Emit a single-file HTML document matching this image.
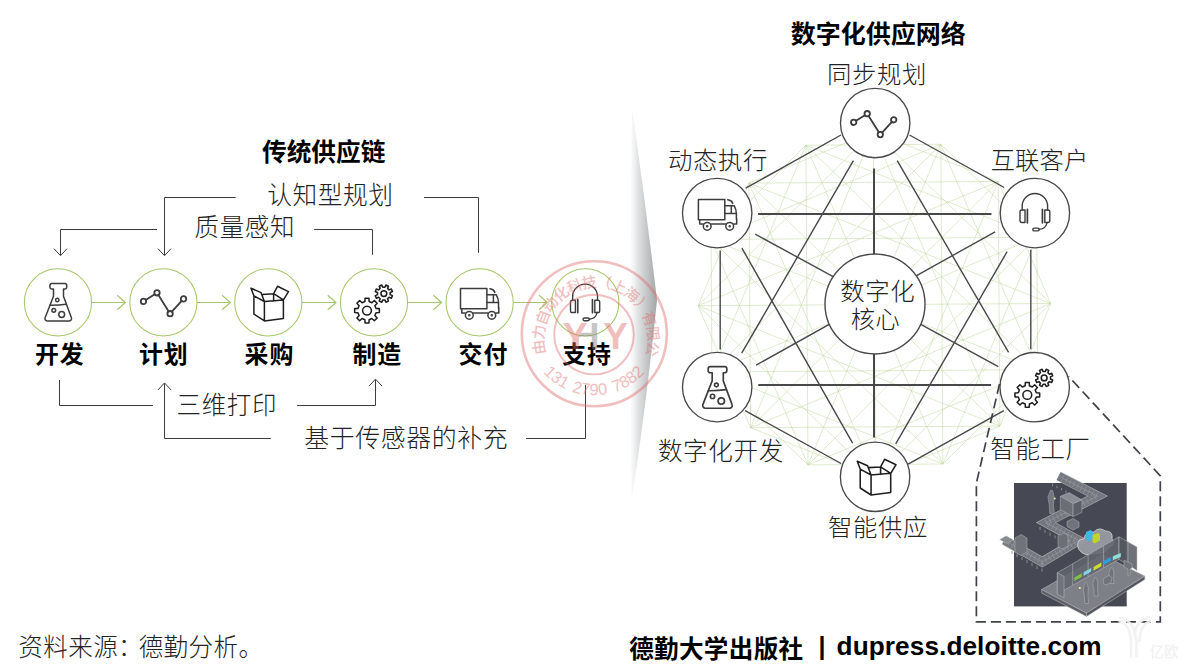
<!DOCTYPE html>
<html lang="zh"><head><meta charset="utf-8"><title>数字化供应网络</title>
<style>html,body{margin:0;padding:0;background:#fff}body{width:1188px;height:668px;overflow:hidden}svg{display:block}</style></head>
<body>
<svg width="1188" height="668" viewBox="0 0 1188 668">
<defs><linearGradient id="curl" gradientUnits="userSpaceOnUse" x1="626" y1="0" x2="658" y2="0"><stop offset="0" stop-color="#ffffff" stop-opacity="0"/><stop offset="0.35" stop-color="#e4e5e6"/><stop offset="1" stop-color="#9fa1a3"/></linearGradient><path id="stampTop" d="M 595.9,391.2 A 51.9,51.9 0 1 1 595.9,287.4 A 51.9,51.9 0 1 1 595.9,391.2"/><path id="stampBot" d="M 594.1,258.7 A 68.3,68.3 0 1 0 594.1,395.3 A 68.3,68.3 0 1 0 594.1,258.7"/></defs>
<rect width="1188" height="668" fill="#fff"/>
<path d="M632,108 Q645,200 657,300 Q647,400 631.5,501 Q629,300 632,108Z" fill="url(#curl)"/>
<path d="M873.2,131.6 L998.2,181.5 M873.2,131.6 L1050.7,303.5 M873.2,131.6 L999.9,426.1 M873.2,131.6 L875.6,477.6 M873.2,131.6 L750.6,427.7 M873.2,131.6 L698.1,305.7 M873.2,131.6 L748.9,183.1 M998.2,181.5 L1050.7,303.5 M998.2,181.5 L999.9,426.1 M998.2,181.5 L875.6,477.6 M998.2,181.5 L750.6,427.7 M998.2,181.5 L698.1,305.7 M998.2,181.5 L748.9,183.1 M1050.7,303.5 L999.9,426.1 M1050.7,303.5 L875.6,477.6 M1050.7,303.5 L750.6,427.7 M1050.7,303.5 L698.1,305.7 M1050.7,303.5 L748.9,183.1 M999.9,426.1 L875.6,477.6 M999.9,426.1 L750.6,427.7 M999.9,426.1 L698.1,305.7 M999.9,426.1 L748.9,183.1 M875.6,477.6 L750.6,427.7 M875.6,477.6 L698.1,305.7 M875.6,477.6 L748.9,183.1 M750.6,427.7 L698.1,305.7 M750.6,427.7 L748.9,183.1 M698.1,305.7 L748.9,183.1 M940.8,144.3 L1036.8,237.3 M940.8,144.3 L1037.7,369.7 M940.8,144.3 L942.9,464.0 M940.8,144.3 L808.0,464.9 M940.8,144.3 L712.0,371.9 M940.8,144.3 L711.1,239.5 M940.8,144.3 L805.9,145.2 M1036.8,237.3 L1037.7,369.7 M1036.8,237.3 L942.9,464.0 M1036.8,237.3 L808.0,464.9 M1036.8,237.3 L712.0,371.9 M1036.8,237.3 L711.1,239.5 M1036.8,237.3 L805.9,145.2 M1037.7,369.7 L942.9,464.0 M1037.7,369.7 L808.0,464.9 M1037.7,369.7 L712.0,371.9 M1037.7,369.7 L711.1,239.5 M1037.7,369.7 L805.9,145.2 M942.9,464.0 L808.0,464.9 M942.9,464.0 L712.0,371.9 M942.9,464.0 L711.1,239.5 M942.9,464.0 L805.9,145.2 M808.0,464.9 L712.0,371.9 M808.0,464.9 L711.1,239.5 M808.0,464.9 L805.9,145.2 M712.0,371.9 L711.1,239.5 M712.0,371.9 L805.9,145.2 M711.1,239.5 L805.9,145.2" fill="none" stroke="#bdd79a" stroke-width="0.5"/>
<path d="M841.0,135.0 L745.7,188.2 M909.5,135.0 L1004.2,187.5 M720.2,250.5 L720.2,349.6 M1030.8,249.8 L1030.8,349.2 M745.1,410.7 L841.1,463.5 M1003.8,410.7 L908.1,464.2 M755.3,234.2 L998.3,366.6 M995.1,231.8 L756.1,365.2 M853.4,160.6 L741.7,353.2 M897.2,160.6 L1008.6,352.3 M741.9,248.1 L852.6,443.1 M1007.1,251.7 L895.7,443.8" fill="none" stroke="#48484b" stroke-width="1.4"/>
<path d="M758.1,214 H991.5 M758.3,385 H991.1 M874,168.4 V437.6" fill="none" stroke="#48484b" stroke-width="2"/>
<circle cx="875.2" cy="123.0" r="34.7" fill="#fff" stroke="#48484b" stroke-width="1.35"/>
<g transform="translate(873.6,123.2) scale(1.000)"><g fill="none" stroke="#3c3c3c" stroke-width="1.8" stroke-linecap="round"><path d="M-17.62,-2.35 L-8.68,-8.05 M-4.97,-7.21 L5.27,9.11 M8.51,9.40 L18.29,-1.40"/><circle cx="-19.90" cy="-0.90" r="2.7"/><circle cx="-6.40" cy="-9.50" r="2.7"/><circle cx="6.70" cy="11.40" r="2.7"/><circle cx="20.10" cy="-3.40" r="2.7"/></g></g>
<circle cx="717.2" cy="213.1" r="34.7" fill="#fff" stroke="#48484b" stroke-width="1.35"/>
<g transform="translate(717.5,213.3) scale(1.000)"><g fill="none" stroke="#3c3c3c" stroke-width="1.5" stroke-linejoin="round" stroke-linecap="round"><rect x="-19.1" y="-13.7" width="26.4" height="20.2"/><path d="M-17.8,6.5 V10.7 H-14.4 M-6.2,10.7 H8.1 M16.3,10.7 H19.2 V5.5"/><path d="M7.3,-7.6 H16.6 Q18.9,-3.5 18.9,0.2 V6"/><path d="M7.3,0.2 H18.9 M13.8,-7.6 V0.2"/><path d="M10.3,-13.5 Q14.3,-12.9 15.3,-9.9"/><circle cx="-10.3" cy="13" r="3.9"/><circle cx="12.2" cy="13" r="3.9"/><circle cx="-10.3" cy="13" r="0.5" fill="#3c3c3c"/><circle cx="12.2" cy="13" r="0.5" fill="#3c3c3c"/></g></g>
<circle cx="1034.9" cy="213.1" r="34.7" fill="#fff" stroke="#48484b" stroke-width="1.35"/>
<g transform="translate(1034.9,213.1) scale(1.000)"><g fill="none" stroke="#3c3c3c" stroke-width="1.4" stroke-linejoin="round" stroke-linecap="round"><path d="M-12.7,-3.1 V-7 A12.7,12.6 0 0 1 12.7,-7 V-3.1"/><path d="M-9.9,-3.1 H-13 A1.9,1.9 0 0 0 -14.9,-1.2 V7.5 A1.9,1.9 0 0 0 -13,9.4 H-9.9 Z"/><path d="M9.9,-3.1 H13 A1.9,1.9 0 0 1 14.9,-1.2 V7.5 A1.9,1.9 0 0 1 13,9.4 H9.9 Z"/><path d="M-7.5,-3.7 V9.7 M7.5,-3.7 V9.7" stroke-width="1.7"/><path d="M12.2,9.4 Q11.2,15.6 4.3,16.3"/><rect x="-2.1" y="15" width="6.4" height="2.8" rx="1.4"/></g></g>
<circle cx="717.2" cy="387.1" r="34.7" fill="#fff" stroke="#48484b" stroke-width="1.35"/>
<g transform="translate(717.4,387.5) scale(1.110)"><g fill="none" stroke="#3c3c3c" stroke-width="1.5" stroke-linejoin="round" stroke-linecap="round"><path d="M-6.4,-18.8 H6.6 A1.9,1.9 0 0 1 8.5,-16.9 V-15.2 A1.9,1.9 0 0 1 6.6,-13.3 H5.3 V-6 L13.2,15.4 A2.4,2.4 0 0 1 11,18.7 H-10.9 A2.4,2.4 0 0 1 -13.1,15.4 L-4.7,-6 V-13.3 H-6.4 A1.9,1.9 0 0 1 -8.3,-15.2 V-16.9 A1.9,1.9 0 0 1 -6.4,-18.8Z"/><path d="M-8.2,2.9 Q0,3 8,1.9"/><circle cx="-0.9" cy="-2.3" r="1.7"/><circle cx="-4.4" cy="8" r="1.9"/><circle cx="3.5" cy="12.2" r="2.9"/></g></g>
<circle cx="1034.7" cy="387.2" r="34.7" fill="#fff" stroke="#48484b" stroke-width="1.35"/>
<g transform="translate(1034.3,386.6) scale(1.000)"><g fill="none" stroke="#1e1e1e" stroke-width="1.55" stroke-linejoin="round"><path d="M-9.10,-0.76 L-8.96,-4.05 L-5.04,-4.05 L-4.90,-0.76 L-2.08,0.41 L0.35,-1.81 L3.11,0.95 L0.89,3.38 L2.06,6.20 L5.35,6.34 L5.35,10.26 L2.06,10.40 L0.89,13.22 L3.11,15.65 L0.35,18.41 L-2.08,16.19 L-4.90,17.36 L-5.04,20.65 L-8.96,20.65 L-9.10,17.36 L-11.92,16.19 L-14.35,18.41 L-17.11,15.65 L-14.89,13.22 L-16.06,10.40 L-19.35,10.26 L-19.35,6.34 L-16.06,6.20 L-14.89,3.38 L-17.11,0.95 L-14.35,-1.81 L-11.92,0.41Z"/><circle cx="-7" cy="8.3" r="4.4"/><path d="M10.90,-15.01 L11.90,-17.26 L14.45,-16.20 L13.57,-13.91 L15.06,-12.42 L17.35,-13.30 L18.41,-10.75 L16.16,-9.75 L16.16,-7.65 L18.41,-6.65 L17.35,-4.10 L15.06,-4.98 L13.57,-3.49 L14.45,-1.20 L11.90,-0.14 L10.90,-2.39 L8.80,-2.39 L7.80,-0.14 L5.25,-1.20 L6.13,-3.49 L4.64,-4.98 L2.35,-4.10 L1.29,-6.65 L3.54,-7.65 L3.54,-9.75 L1.29,-10.75 L2.35,-13.30 L4.64,-12.42 L6.13,-13.91 L5.25,-16.20 L7.80,-17.26 L8.80,-15.01Z"/><circle cx="9.85" cy="-8.7" r="2.9"/></g></g>
<circle cx="875.1" cy="476.8" r="34.7" fill="#fff" stroke="#48484b" stroke-width="1.35"/>
<g transform="translate(875.1,475.8) scale(1.033)"><path d="M-14.4,-6.5 L-14.4,11.8 L-3.9,18.6 L15.1,16.2 L15.1,-2.4 L-3.9,-0.8 L-3.9,18.6 M-14.4,-6.5 L-3.9,-0.8 M-14.4,-6.5 L-17.3,-14.1 L-7.3,-9.7 L-3.9,-0.8 M-6.2,-7.9 L5.3,-8.6 L15.1,-2.4 M5.3,-8.6 L9.2,-16.0 L20.2,-10.7 L15.1,-2.4 M5.3,-8.6 L5.3,-1.4" fill="none" stroke="#1e1e1e" stroke-width="1.5" stroke-linejoin="round" stroke-linecap="round"/></g>
<circle cx="875" cy="304" r="50" fill="#fff" stroke="#48484b" stroke-width="1.4"/>
<path d="M999.5,384 L976.4,483 V621.8 H1160.3 V475.8 L1068.5,376.3" fill="none" stroke="#40424a" stroke-width="1.7" stroke-dasharray="10 5"/>
<g id="factory" stroke-linejoin="round">
<rect x="1014" y="483" width="112.7" height="123.4" fill="#464953"/>
<g fill="none" stroke-linejoin="miter">
<path d="M1058.6,476.1 L1097.5,496.1 L1046,522.6 L1078.5,540.5 L1042.2,562 L1004.4,540.3" stroke="#a4a7ac" stroke-width="9.6"/>
<path d="M1058.6,476.1 L1097.5,496.1 L1046,522.6 L1078.5,540.5 L1042.2,562 L1004.4,540.3" stroke="#74777e" stroke-width="8.2"/>
<path d="M1058.6,476.1 L1097.5,496.1 L1046,522.6 L1078.5,540.5 L1042.2,562 L1004.4,540.3" stroke="#8e9197" stroke-width="6" stroke-dasharray="0.8 3.4"/>
<path d="M1058.6,476.1 L1097.5,496.1 L1046,522.6 L1078.5,540.5 L1042.2,562 L1004.4,540.3" stroke="#9a9da3" stroke-width="0.6"/>
</g>
<path d="M1052.5,483.5 v2.5 M1057,485.8 v2.5 M1061.5,488.1 v2.5 M1066,490.4 v2.5 M1040,527 v3 M1045,529.8 v3 M1050,532.6 v3 M1055,535.4 v3 M1060,538.2 v3 M1065,541 v3 M1012,551 v3 M1017,554 v3 M1022,557 v3 M1027,560 v3 M1032,563 v3 M1037,566 v3 M1042,568.5 v3" stroke="#8f9298" stroke-width="0.9" fill="none"/>
<g stroke="#b3b5ba" stroke-width="0.5">
<path d="M1060.3,496.3 L1069.1,492.6 L1081.9,499.9 L1073.1,503.7Z" fill="#8a8d93"/>
<path d="M1060.3,496.3 L1073.1,503.7 V516.5 L1060.3,509.5Z" fill="#6b6e75"/>
<path d="M1073.1,503.7 L1081.9,499.9 V512.5 L1073.1,516.5Z" fill="#5c5f67"/>
<path d="M1015,538 L1021,534.5 L1027,538 V552 L1021,555.5 L1015,552Z" fill="#70737a"/>
<path d="M999.8,539.5 L1006,536 L1013,540 L1006.8,543.6Z" fill="#878a90"/>
<path d="M1058,536 L1064,533 L1068,535.5 V546 L1062,549 L1058,546.5Z" fill="#6c6f76"/>
<path d="M1067,521.5 L1073,518.5 L1079,522 V527 L1073,530 L1067,526.5Z" fill="#70737a"/>
</g>
<path d="M1050.3,490.5 q1.8,-1.2 2.6,0.6 l1.2,6 l-0.6,8 l0.9,8.5 h-4.6 l-0.6,-9 l-1.3,-7.5Z" fill="#74777e" stroke="#a9acb1" stroke-width="0.5"/>
<circle cx="1054.8" cy="498.6" r="1" fill="#e8e88a"/>
<path transform="translate(1093,541) scale(1.12) translate(-1093,-541)" d="M1080,548 q-3,-8 5,-9 q1,-7 9,-6 q4,-5 10,-1 q7,0 6,7 q3,5 -3,8 q-3,6 -12,5 q-10,4 -15,-4Z" fill="#979aa0" stroke="#dcdde0" stroke-width="0.7" opacity="0.96"/>
<path d="M1086,532 l4.5,-2 l2.5,2 v6.5 l-4.5,3 l-2.5,-2Z" fill="#3fb4e6"/>
<path d="M1092.5,535 l5.5,-2 l2,1.5 v6 l-5.5,3 l-2,-2Z" fill="#bfd32f"/>
<g stroke="#bdbfc3" stroke-width="0.5">
<path d="M1041.6,589.6 L1102.2,554.8 L1144.8,576.1 L1086.5,613.1Z" fill="#7d8087"/>
<path d="M1041.6,589.6 L1086.5,613.1 V616.5 L1041.6,593Z" fill="#5d6068"/>
<path d="M1086.5,613.1 L1144.8,576.1 V579.5 L1086.5,616.5Z" fill="#53565e"/>
<path d="M1057.3,572.7 L1119,536.8 V559.3 L1057.3,594Z" fill="#62656d" fill-opacity="0.85"/>
<path d="M1119,536.8 L1137,546.9 V570.5 L1119,559.3Z" fill="#565961" fill-opacity="0.85"/>
<path d="M1057.3,572.7 L1064,576.3 V598 L1057.3,594Z" fill="#70737a"/>
<path d="M1072.7,563.7 V585.3 M1088.1,554.8 V576.7 M1103.6,545.8 V568 M1128,541.9 V565" fill="none"/>
</g>
<path d="M1074.3,577.6 l7.6,-4.3 v3.4 l-7.6,4.3Z" fill="#7ec242"/>
<path d="M1083.6,572.3 l7.6,-4.3 v3.6 l-7.6,4.3Z" fill="#7fd6e6"/>
<path d="M1093.5,567 l7.8,-4.6 v3.8 l-7.8,4.6Z" fill="#cddc2b"/>
<path d="M1103,561.5 l7.8,-4.4 v3.8 l-7.8,4.4Z" fill="#2d9fe0"/>
<path d="M1112.8,556.3 l8,-3.4 v4 l-8,3.4Z" fill="#8fe0d6"/>
<g fill="#70737a" stroke="#b9bbbf" stroke-width="0.45">
<path d="M1085,583 q1.6,-1 2.4,0.5 l0.9,5 l-0.3,7 l0.6,8 h-3.8 l-0.5,-8 l-1,-6.5Z"/>
<path d="M1094.5,578 q1.6,-1 2.4,0.5 l0.9,5 l-0.3,6 l0.6,6.5 h-3.8 l-0.5,-6.5 l-1,-6Z"/>
<path d="M1110.5,568 q1.6,-1 2.4,0.5 l0.9,4.5 l-0.3,5 l0.6,5.5 h-3.8 l-0.5,-5.5 l-1,-5Z"/>
<path d="M1104,578 l5,-2.5 l3,2 l-1,5 l-5,2.5 l-3,-2Z"/>
<path d="M1124,560 l8,4 v4 l-2,1 v6 l-2,1 v-7 l-4,-2Z"/>
</g>
<circle cx="1079.8" cy="588" r="1.1" fill="#f2f0a0"/>
</g>
<circle cx="57.95" cy="302.4" r="33.6" fill="none" stroke="#a5c76b" stroke-width="1.05"/>
<g transform="translate(58.2,302.3) scale(1.00)"><g fill="none" stroke="#3c3c3c" stroke-width="1.5" stroke-linejoin="round" stroke-linecap="round"><path d="M-6.4,-18.8 H6.6 A1.9,1.9 0 0 1 8.5,-16.9 V-15.2 A1.9,1.9 0 0 1 6.6,-13.3 H5.3 V-6 L13.2,15.4 A2.4,2.4 0 0 1 11,18.7 H-10.9 A2.4,2.4 0 0 1 -13.1,15.4 L-4.7,-6 V-13.3 H-6.4 A1.9,1.9 0 0 1 -8.3,-15.2 V-16.9 A1.9,1.9 0 0 1 -6.4,-18.8Z"/><path d="M-8.2,2.9 Q0,3 8,1.9"/><circle cx="-0.9" cy="-2.3" r="1.7"/><circle cx="-4.4" cy="8" r="1.9"/><circle cx="3.5" cy="12.2" r="2.9"/></g></g>
<path d="M91.6,302.5 H125.4 M117.2,295.3 L125.4,302.5 L117.2,309.7" fill="none" stroke="#a5c76b" stroke-width="1.15"/>
<circle cx="163.40" cy="302.4" r="33.6" fill="none" stroke="#a5c76b" stroke-width="1.05"/>
<g transform="translate(163.4,302.3) scale(1.00)"><g fill="none" stroke="#3c3c3c" stroke-width="1.8" stroke-linecap="round"><path d="M-17.62,-2.35 L-8.68,-8.05 M-4.97,-7.21 L5.27,9.11 M8.51,9.40 L18.29,-1.40"/><circle cx="-19.90" cy="-0.90" r="2.7"/><circle cx="-6.40" cy="-9.50" r="2.7"/><circle cx="6.70" cy="11.40" r="2.7"/><circle cx="20.10" cy="-3.40" r="2.7"/></g></g>
<path d="M197.0,302.5 H230.3 M222.1,295.3 L230.3,302.5 L222.1,309.7" fill="none" stroke="#a5c76b" stroke-width="1.15"/>
<circle cx="268.30" cy="302.4" r="33.6" fill="none" stroke="#a5c76b" stroke-width="1.05"/>
<g transform="translate(268.3,302.3) scale(1.00)"><path d="M-14.4,-6.5 L-14.4,11.8 L-3.9,18.6 L15.1,16.2 L15.1,-2.4 L-3.9,-0.8 L-3.9,18.6 M-14.4,-6.5 L-3.9,-0.8 M-14.4,-6.5 L-17.3,-14.1 L-7.3,-9.7 L-3.9,-0.8 M-6.2,-7.9 L5.3,-8.6 L15.1,-2.4 M5.3,-8.6 L9.2,-16.0 L20.2,-10.7 L15.1,-2.4 M5.3,-8.6 L5.3,-1.4" fill="none" stroke="#1e1e1e" stroke-width="1.5" stroke-linejoin="round" stroke-linecap="round"/></g>
<path d="M301.9,302.5 H336.0 M327.8,295.3 L336.0,302.5 L327.8,309.7" fill="none" stroke="#a5c76b" stroke-width="1.15"/>
<circle cx="374.00" cy="302.4" r="33.6" fill="none" stroke="#a5c76b" stroke-width="1.05"/>
<g transform="translate(374.0,302.3) scale(1.00)"><g fill="none" stroke="#1e1e1e" stroke-width="1.55" stroke-linejoin="round"><path d="M-9.10,-0.76 L-8.96,-4.05 L-5.04,-4.05 L-4.90,-0.76 L-2.08,0.41 L0.35,-1.81 L3.11,0.95 L0.89,3.38 L2.06,6.20 L5.35,6.34 L5.35,10.26 L2.06,10.40 L0.89,13.22 L3.11,15.65 L0.35,18.41 L-2.08,16.19 L-4.90,17.36 L-5.04,20.65 L-8.96,20.65 L-9.10,17.36 L-11.92,16.19 L-14.35,18.41 L-17.11,15.65 L-14.89,13.22 L-16.06,10.40 L-19.35,10.26 L-19.35,6.34 L-16.06,6.20 L-14.89,3.38 L-17.11,0.95 L-14.35,-1.81 L-11.92,0.41Z"/><circle cx="-7" cy="8.3" r="4.4"/><path d="M10.90,-15.01 L11.90,-17.26 L14.45,-16.20 L13.57,-13.91 L15.06,-12.42 L17.35,-13.30 L18.41,-10.75 L16.16,-9.75 L16.16,-7.65 L18.41,-6.65 L17.35,-4.10 L15.06,-4.98 L13.57,-3.49 L14.45,-1.20 L11.90,-0.14 L10.90,-2.39 L8.80,-2.39 L7.80,-0.14 L5.25,-1.20 L6.13,-3.49 L4.64,-4.98 L2.35,-4.10 L1.29,-6.65 L3.54,-7.65 L3.54,-9.75 L1.29,-10.75 L2.35,-13.30 L4.64,-12.42 L6.13,-13.91 L5.25,-16.20 L7.80,-17.26 L8.80,-15.01Z"/><circle cx="9.85" cy="-8.7" r="2.9"/></g></g>
<path d="M407.6,302.5 H441.6 M433.4,295.3 L441.6,302.5 L433.4,309.7" fill="none" stroke="#a5c76b" stroke-width="1.15"/>
<circle cx="479.60" cy="302.4" r="33.6" fill="none" stroke="#a5c76b" stroke-width="1.05"/>
<g transform="translate(479.6,302.3) scale(1.00)"><g fill="none" stroke="#3c3c3c" stroke-width="1.5" stroke-linejoin="round" stroke-linecap="round"><rect x="-19.1" y="-13.7" width="26.4" height="20.2"/><path d="M-17.8,6.5 V10.7 H-14.4 M-6.2,10.7 H8.1 M16.3,10.7 H19.2 V5.5"/><path d="M7.3,-7.6 H16.6 Q18.9,-3.5 18.9,0.2 V6"/><path d="M7.3,0.2 H18.9 M13.8,-7.6 V0.2"/><path d="M10.3,-13.5 Q14.3,-12.9 15.3,-9.9"/><circle cx="-10.3" cy="13" r="3.9"/><circle cx="12.2" cy="13" r="3.9"/><circle cx="-10.3" cy="13" r="0.5" fill="#3c3c3c"/><circle cx="12.2" cy="13" r="0.5" fill="#3c3c3c"/></g></g>
<path d="M513.2,302.5 H547.3 M539.1,295.3 L547.3,302.5 L539.1,309.7" fill="none" stroke="#a5c76b" stroke-width="1.15"/>
<circle cx="585.30" cy="302.4" r="33.6" fill="none" stroke="#a5c76b" stroke-width="1.05"/>
<g transform="translate(585.1,303.3) scale(0.98)"><g fill="none" stroke="#3c3c3c" stroke-width="1.4" stroke-linejoin="round" stroke-linecap="round"><path d="M-12.7,-3.1 V-7 A12.7,12.6 0 0 1 12.7,-7 V-3.1"/><path d="M-9.9,-3.1 H-13 A1.9,1.9 0 0 0 -14.9,-1.2 V7.5 A1.9,1.9 0 0 0 -13,9.4 H-9.9 Z"/><path d="M9.9,-3.1 H13 A1.9,1.9 0 0 1 14.9,-1.2 V7.5 A1.9,1.9 0 0 1 13,9.4 H9.9 Z"/><path d="M-7.5,-3.7 V9.7 M7.5,-3.7 V9.7" stroke-width="1.7"/><path d="M12.2,9.4 Q11.2,15.6 4.3,16.3"/><rect x="-2.1" y="15" width="6.4" height="2.8" rx="1.4"/></g></g>
<path d="M157,229.5 H60.5 V255.2 M54.0,248.7 L60.5,255.7 L67.0,248.7 M235.7,197.5 H164.5 V255.2 M158.0,248.7 L164.5,255.7 L171.0,248.7 M314.1,229.5 H372.5 V254.8 M424,197.5 H478.5 V252.9 M59.5,379.9 V405.5 H152.9 M270.8,438.5 H164.5 V383.4 M158.0,389.9 L164.5,382.9 L171.0,389.9 M297.1,405.5 H375.5 V379.6 M369.0,386.1 L375.5,379.1 L382.0,386.1 M526,438.5 H585.5 V384.9" fill="none" stroke="#3d3d3d" stroke-width="1"/>
<text x="323.7" y="161.0" font-size="24.7" font-weight="700" text-anchor="middle" fill="#000" font-family="'Liberation Sans','Noto Sans CJK SC',sans-serif" >传统供应链</text>
<text x="330.4" y="204.0" font-size="24.7" font-weight="300" text-anchor="middle" fill="#222" font-family="'Liberation Sans','Noto Sans CJK SC',sans-serif"  letter-spacing="0.60">认知型规划</text>
<text x="244.8" y="236.0" font-size="24.5" font-weight="300" text-anchor="middle" fill="#222" font-family="'Liberation Sans','Noto Sans CJK SC',sans-serif"  letter-spacing="0.60">质量感知</text>
<text x="226.8" y="414.0" font-size="24.5" font-weight="300" text-anchor="middle" fill="#222" font-family="'Liberation Sans','Noto Sans CJK SC',sans-serif"  letter-spacing="0.60">三维打印</text>
<text x="406.3" y="447.0" font-size="24.9" font-weight="300" text-anchor="middle" fill="#222" font-family="'Liberation Sans','Noto Sans CJK SC',sans-serif"  letter-spacing="0.60">基于传感器的补充</text>
<text x="59.7" y="363.0" font-size="23.9" font-weight="700" text-anchor="middle" fill="#000" font-family="'Liberation Sans','Noto Sans CJK SC',sans-serif"  letter-spacing="0.90">开发</text>
<text x="163.8" y="363.0" font-size="23.9" font-weight="700" text-anchor="middle" fill="#000" font-family="'Liberation Sans','Noto Sans CJK SC',sans-serif"  letter-spacing="0.90">计划</text>
<text x="269.4" y="363.0" font-size="23.9" font-weight="700" text-anchor="middle" fill="#000" font-family="'Liberation Sans','Noto Sans CJK SC',sans-serif"  letter-spacing="0.90">采购</text>
<text x="377.2" y="363.0" font-size="23.9" font-weight="700" text-anchor="middle" fill="#000" font-family="'Liberation Sans','Noto Sans CJK SC',sans-serif"  letter-spacing="0.90">制造</text>
<text x="483.4" y="363.0" font-size="23.9" font-weight="700" text-anchor="middle" fill="#000" font-family="'Liberation Sans','Noto Sans CJK SC',sans-serif"  letter-spacing="0.90">交付</text>
<text x="587.0" y="363.0" font-size="23.9" font-weight="700" text-anchor="middle" fill="#000" font-family="'Liberation Sans','Noto Sans CJK SC',sans-serif"  letter-spacing="0.90">支持</text>
<text x="878.2" y="43.0" font-size="25.0" font-weight="700" text-anchor="middle" fill="#000" font-family="'Liberation Sans','Noto Sans CJK SC',sans-serif" >数字化供应网络</text>
<text x="876.9" y="83.0" font-size="24.4" font-weight="300" text-anchor="middle" fill="#222" font-family="'Liberation Sans','Noto Sans CJK SC',sans-serif"  letter-spacing="0.60">同步规划</text>
<text x="718.1" y="169.0" font-size="24.4" font-weight="300" text-anchor="middle" fill="#222" font-family="'Liberation Sans','Noto Sans CJK SC',sans-serif"  letter-spacing="0.60">动态执行</text>
<text x="1039.5" y="169.3" font-size="24.2" font-weight="300" text-anchor="middle" fill="#222" font-family="'Liberation Sans','Noto Sans CJK SC',sans-serif"  letter-spacing="0.20">互联客户</text>
<text x="720.9" y="459.5" font-size="24.6" font-weight="300" text-anchor="middle" fill="#222" font-family="'Liberation Sans','Noto Sans CJK SC',sans-serif"  letter-spacing="0.60">数字化开发</text>
<text x="878.1" y="536.0" font-size="24.4" font-weight="300" text-anchor="middle" fill="#222" font-family="'Liberation Sans','Noto Sans CJK SC',sans-serif"  letter-spacing="0.60">智能供应</text>
<text x="1040.5" y="457.5" font-size="24.5" font-weight="300" text-anchor="middle" fill="#222" font-family="'Liberation Sans','Noto Sans CJK SC',sans-serif"  letter-spacing="0.60">智能工厂</text>
<text x="877.8" y="300.3" font-size="24.4" font-weight="300" text-anchor="middle" fill="#222" font-family="'Liberation Sans','Noto Sans CJK SC',sans-serif"  letter-spacing="0.60">数字化</text>
<text x="875.5" y="328.4" font-size="24.2" font-weight="300" text-anchor="middle" fill="#222" font-family="'Liberation Sans','Noto Sans CJK SC',sans-serif"  letter-spacing="0.60">核心</text>
<text x="18.3" y="655.8" font-size="24.5" font-weight="300" text-anchor="start" fill="#222" font-family="'Liberation Sans','Noto Sans CJK SC',sans-serif"  letter-spacing="0.45">资料来源：<tspan dx="-4.4">德勤分析。</tspan></text>
<text x="629.2" y="657.6" font-size="24.6" font-weight="700" text-anchor="start" fill="#000" font-family="'Liberation Sans','Noto Sans CJK SC',sans-serif"  letter-spacing="0.30">德勤大学出版社</text>
<text x="822.0" y="655.0" font-size="25.0" font-weight="700" text-anchor="middle" fill="#000" font-family="'Liberation Sans','Noto Sans CJK SC',sans-serif" >|</text>
<text x="836.6" y="654.7" font-size="26.2" font-weight="700" text-anchor="start" fill="#000" font-family="'Liberation Sans','Noto Sans CJK SC',sans-serif"  letter-spacing="0.08">dupress.deloitte.com</text>
<g opacity="0.43">
<circle cx="594.3" cy="333.7" r="72.5" fill="none" stroke="#e06a6a" stroke-width="2.6"/>
<circle cx="594" cy="334.6" r="39.8" fill="none" stroke="#e06a6a" stroke-width="1.9"/>
<text font-size="14.8" font-weight="500" fill="#e06a6a" font-family="'Liberation Sans','Noto Sans CJK SC',sans-serif" letter-spacing="-1.05"><textPath href="#stampTop" startOffset="50.1%" text-anchor="middle">由力自动化科技（上海）有限公</textPath></text>
<text font-size="16.5" fill="#e06a6a" font-family="'Liberation Sans','Noto Sans CJK SC',sans-serif" word-spacing="2.2"><textPath href="#stampBot" startOffset="50%" text-anchor="middle">131 2790 7882</textPath></text>
<path d="M577,347.5 V339 Q577,334.6 581.5,334.6 H592" fill="none" stroke="#7d7d7d" stroke-width="3.6"/>
<text y="349.1" font-size="37" font-weight="700" text-anchor="middle" fill="#e06a6a" font-family="'Liberation Sans','Noto Sans CJK SC',sans-serif"><tspan x="575.2">Y</tspan><tspan x="594.3" fill="#7d7d7d">I</tspan><tspan x="615.6">Y</tspan></text>
</g>
<g opacity="0.9"><path d="M1118.5,621 Q1130.5,624 1131,642 V657.5 M1119.5,617.5 Q1135.5,621 1136.3,642 V657.5 M1151,621 Q1140,624 1139.3,642 M1150,617.5 Q1135.5,620 1134.6,636" fill="none" stroke="#f1f1f1" stroke-width="2.6"/><text x="1149.5" y="656.5" font-size="14.5" font-weight="500" fill="#f1f1f1" font-family="'Liberation Sans','Noto Sans CJK SC',sans-serif">亿欧</text></g>
</svg>
</body></html>
